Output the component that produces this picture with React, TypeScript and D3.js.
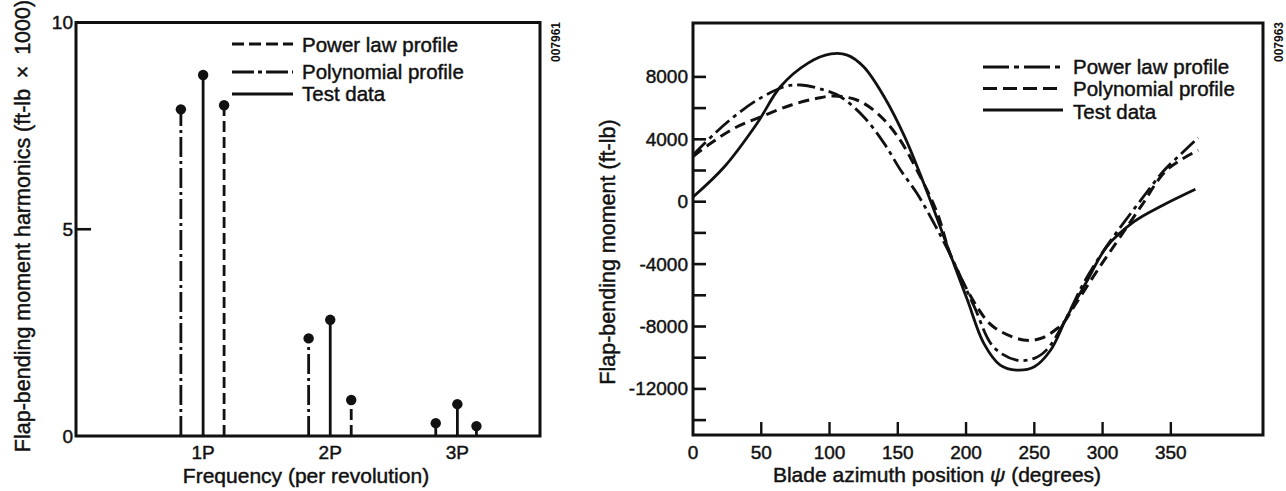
import React from "react";
import * as d3 from "d3";

// ---------- Left chart data (harmonics, ft-lb x 1000) ----------
const freqTickValues = [1, 2, 3];
const freqTickLabels = ["1P", "2P", "3P"];
const harmTickValues = [0, 5, 10];

const polyFreq = [0.825, 1.83, 2.83];
const polyHarm = [7.9, 2.36, 0.31];
const testFreq = [1, 2, 3];
const testHarm = [8.73, 2.81, 0.77];
const powerFreq = [1.165, 2.165, 3.15];
const powerHarm = [8.0, 0.87, 0.24];

// ---------- Right chart data (moment vs azimuth) ----------
const azTicks = [0, 50, 100, 150, 200, 250, 300, 350];
const momentTickLabels = [8000, 4000, 0, -4000, -8000, -12000];
const momentTickMarks = [8000, 6000, 4000, 2000, 0, -2000, -4000, -6000, -8000, -10000, -12000, -14000];

const testDeg = [0, 23, 47, 64, 84, 101, 113, 125, 140, 155, 169, 184, 189, 201, 213, 225, 237, 250, 262, 274, 289, 303, 323, 342, 368];
const testVal = [300, 2240, 5030, 7370, 8870, 9470, 9400, 8650, 6730, 4170, 1180, -2300, -3500, -6300, -9080, -10470, -10790, -10580, -9510, -7370, -5020, -2890, -1280, -320, 800];

const powerDeg = [0, 15, 30, 47, 67, 79, 96, 108, 125, 140, 152, 164, 176, 189, 206, 220, 237, 250, 259, 272, 285, 298, 310, 328, 345, 358, 370];
const powerVal = [3000, 4300, 5450, 6520, 7370, 7480, 7160, 6730, 5450, 3740, 2030, 540, -1300, -3500, -6730, -9300, -10150, -10040, -9500, -7700, -5400, -3500, -2000, 100, 2000, 3100, 4100];

const polyDeg = [0, 13, 30, 50, 72, 91, 103, 120, 135, 150, 164, 179, 189, 208, 220, 242, 255, 267, 272, 279, 298, 308, 328, 347, 370];
const polyVal = [2900, 3740, 4700, 5450, 6200, 6630, 6775, 6520, 5670, 4170, 2030, -745, -3500, -6730, -8013, -8865, -8756, -8115, -7700, -6730, -4166, -2885, -320, 2030, 3300];

const INK = "#111";
const FONT = "'Liberation Sans', Arial, Helvetica, sans-serif";
const TXT = { fill: INK, stroke: INK, strokeWidth: 0.45 };

export default function App() {
  // Left chart scales
  const xL = d3.scaleLinear().domain([0, 3.65]).range([76, 540]);
  const yL = d3.scaleLinear().domain([0, 10]).range([436, 22.5]);

  // Right chart scales
  const xR = d3.scaleLinear().domain([0, 417.5]).range([693, 1263]);
  const yR = d3.scaleLinear().domain([-14955, 11455]).range([435, 23]);

  const lineR = (degs: number[], vals: number[]) =>
    d3
      .line<number>()
      .x((_, i) => xR(degs[i]))
      .y((v) => yR(v))
      .curve(d3.curveCatmullRom.alpha(0.5))(vals) || "";

  const stems = (freqs: number[], vals: number[], dash: string | undefined, key: string) =>
    freqs.map((f, i) => (
      <g key={key + i}>
        <line
          x1={xL(f)}
          x2={xL(f)}
          y1={yL(0)}
          y2={yL(vals[i])}
          stroke={INK}
          strokeWidth={2.8}
          strokeDasharray={dash}
        />
        <circle cx={xL(f)} cy={yL(vals[i])} r={5.2} fill={INK} />
      </g>
    ));

  const legendL = [
    { label: "Power law profile", dash: "12,5", y: 44, ty: 52 },
    { label: "Polynomial profile", dash: "22,4,4,4", y: 72, ty: 79 },
    { label: "Test data", dash: undefined as string | undefined, y: 94, ty: 101 },
  ];
  const legendR = [
    { label: "Power law profile", dash: "26,5,5,5", y: 67, ty: 74 },
    { label: "Polynomial profile", dash: "14,6", y: 88.5, ty: 96 },
    { label: "Test data", dash: undefined as string | undefined, y: 110, ty: 119 },
  ];

  return (
    <svg
      width={1286}
      height={491}
      style={{ position: "absolute", left: 0, top: 0, background: "#fff" }}
      fontFamily={FONT}
    >
      <rect x={0} y={0} width={1286} height={491} fill="#fff" />

      {/* ================= LEFT CHART ================= */}
      <path
        d={`M${xL(0)},${yL(0)} V${yL(10)} H${xL(3.65)} V${yL(0)} Z`}
        fill="none"
        stroke={INK}
        strokeWidth={3}
      />
      <line x1={xL(0)} x2={xL(0) + 15} y1={yL(5)} y2={yL(5)} stroke={INK} strokeWidth={2.6} />
      {harmTickValues.map((v) => (
        <text key={"hl" + v} x={73} y={yL(v)} textAnchor="end" dominantBaseline="central" fontSize={19} {...TXT}>
          {v}
        </text>
      ))}
      {freqTickValues.map((v, i) => (
        <text key={"fl" + v} x={xL(v)} y={459} textAnchor="middle" fontSize={19} {...TXT}>
          {freqTickLabels[i]}
        </text>
      ))}
      {stems(polyFreq, polyHarm, "20,4,3,4", "p")}
      {stems(testFreq, testHarm, undefined, "t")}
      {stems(powerFreq, powerHarm, "11,5", "w")}

      {legendL.map((l) => (
        <g key={"ll" + l.label}>
          <line x1={232} x2={293} y1={l.y} y2={l.y} stroke={INK} strokeWidth={3.2} strokeDasharray={l.dash} />
          <text x={302} y={l.ty} fontSize={20.5} {...TXT}>
            {l.label}
          </text>
        </g>
      ))}

      <text x={306} y={483} textAnchor="middle" fontSize={21} {...TXT}>
        Frequency (per revolution)
      </text>
      <text
        transform={`translate(23,226) rotate(-90)`}
        textAnchor="middle"
        dominantBaseline="central"
        fontSize={21.5}
        {...TXT}
      >
        Flap-bending moment harmonics (ft-lb{"\u2002"}×{"\u2002"}1000)
      </text>
      <text
        transform={`translate(556,42) rotate(-90)`}
        textAnchor="middle"
        dominantBaseline="central"
        fontSize={12}
        fontWeight="bold"
        fill={INK}
      >
        007961
      </text>

      {/* ================= RIGHT CHART ================= */}
      <path
        d={`M${xR(0)},${yR(-14955)} V${yR(11455)} H${xR(417.5)} V${yR(-14955)} Z`}
        fill="none"
        stroke={INK}
        strokeWidth={3}
      />
      {momentTickMarks.map((v) => (
        <line key={"mt" + v} x1={xR(0)} x2={xR(0) + 13} y1={yR(v)} y2={yR(v)} stroke={INK} strokeWidth={2.6} />
      ))}
      {momentTickLabels.map((v) => (
        <text key={"ml" + v} x={688} y={yR(v)} textAnchor="end" dominantBaseline="central" fontSize={19} {...TXT}>
          {v}
        </text>
      ))}
      {azTicks.map((v) => (
        <g key={"az" + v}>
          {v > 0 && (
            <line x1={xR(v)} x2={xR(v)} y1={yR(-14955)} y2={yR(-14955) - 13} stroke={INK} strokeWidth={2.4} />
          )}
          <text x={xR(v)} y={459} textAnchor="middle" fontSize={19} {...TXT}>
            {v}
          </text>
        </g>
      ))}

      <path d={lineR(testDeg, testVal)} fill="none" stroke={INK} strokeWidth={2.8} />
      <path d={lineR(powerDeg, powerVal)} fill="none" stroke={INK} strokeWidth={2.8} strokeDasharray="18,5,4,5" />
      <path d={lineR(polyDeg, polyVal)} fill="none" stroke={INK} strokeWidth={3} strokeDasharray="11,6" />

      {legendR.map((l) => (
        <g key={"lr" + l.label}>
          <line x1={983} x2={1063} y1={l.y} y2={l.y} stroke={INK} strokeWidth={3.2} strokeDasharray={l.dash} />
          <text x={1073} y={l.ty} fontSize={20.5} {...TXT}>
            {l.label}
          </text>
        </g>
      ))}

      <text x={937} y={482} textAnchor="middle" fontSize={21} {...TXT}>
        Blade azimuth position <tspan fontStyle="italic">ψ</tspan> (degrees)
      </text>
      <text
        transform={`translate(608,252) rotate(-90)`}
        textAnchor="middle"
        dominantBaseline="central"
        fontSize={21.5}
        {...TXT}
      >
        Flap-bending moment (ft-lb)
      </text>
      <text
        transform={`translate(1279,42) rotate(-90)`}
        textAnchor="middle"
        dominantBaseline="central"
        fontSize={12}
        fontWeight="bold"
        fill={INK}
      >
        007963
      </text>
    </svg>
  );
}
